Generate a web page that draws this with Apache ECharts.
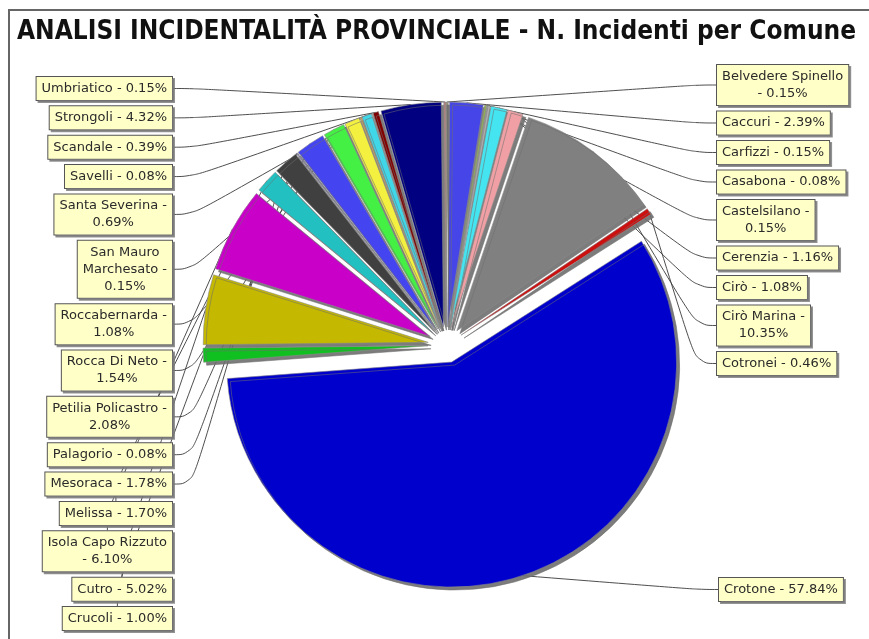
<!DOCTYPE html>
<html>
<head>
<meta charset="utf-8">
<script src="https://cdn.jsdelivr.net/npm/echarts@6/dist/echarts.min.js"></script>
<style>
  html, body { margin: 0; padding: 0; background: #fff; }
  #chart { width: 869px; height: 639px; }
</style>
</head>
<body>
<div id="chart"></div>
<script>
// dati: percentuale incidenti per comune
const comuni = ['Belvedere Spinello', 'Caccuri', 'Carfizzi', 'Casabona', 'Castelsilano', 'Cerenzia', 'Cirò', 'Cirò Marina', 'Cotronei', 'Crotone', 'Crucoli', 'Cutro', 'Isola Capo Rizzuto', 'Melissa', 'Mesoraca', 'Palagorio', 'Petilia Policastro', 'Rocca Di Neto', 'Roccabernarda', 'San Mauro Marchesato', 'Santa Severina', 'Savelli', 'Scandale', 'Strongoli', 'Umbriatico'];
const percentuali = [0.15, 2.39, 0.15, 0.08, 0.15, 1.16, 1.08, 10.35, 0.46, 57.84, 1.00, 5.02, 6.10, 1.70, 1.78, 0.08, 2.08, 1.54, 1.08, 0.15, 0.69, 0.08, 0.39, 4.32, 0.15];
const colori = ['#a09878', '#4545e8', '#90b050', '#9a9a9a', '#b0b0b0', '#44e4f0', '#f0a0a4', '#808080', '#cc1010', '#0000cc', '#10c020', '#c4b800', '#c800c8', '#22c0c0', '#404040', '#8a8ac0', '#4444f0', '#44f044', '#f4f040', '#c0a060', '#40d8e8', '#a0a0a0', '#800000', '#000080', '#b08080'];

// a capo nelle etichette
const dopoNome = ['Belvedere Spinello', 'Isola Capo Rizzuto'];
const dopoTrattino = ['Castelsilano', 'Cirò Marina', 'Santa Severina', 'San Mauro Marchesato', 'Roccabernarda', 'Rocca Di Neto', 'Petilia Policastro'];

function testo(nome, v) {
  const p = v.toFixed(2) + '%';
  let n = nome === 'San Mauro Marchesato' ? 'San Mauro\nMarchesato' : nome;
  if (dopoNome.includes(nome)) return n + '\n- ' + p;
  if (dopoTrattino.includes(nome)) return n + ' -\n' + p;
  return n + ' - ' + p;
}

const LH = 17, PAD = 3;
function altezza(i) {
  return testo(comuni[i], percentuali[i]).split('\n').length * LH + PAD * 2;
}
// colonne etichette
function impila(indici, top, bottom) {
  const pos = {};
  let tot = 0;
  indici.forEach(i => tot += altezza(i));
  const gap = (bottom - top - tot) / (indici.length - 1);
  let y = top;
  indici.forEach(i => { pos[i] = y; y += altezza(i) + gap; });
  return pos;
}
const destra = impila([0, 1, 2, 3, 4, 5, 6, 7, 8], 65, 375);
const sinistra = impila([24, 23, 22, 21, 20, 19, 18, 17, 16, 15, 14, 13, 12, 11, 10], 77, 630);

// torta "esplosa": ogni fetta spostata lungo la sua bisettrice
const CX = 446, CY = 345, R = 225, ESPLOSO = 18;
const totale = percentuali.reduce((a, b) => a + b, 0);
let cum = 0;
const centri = percentuali.map(v => {
  const mid = (cum + v / 2) / totale * Math.PI * 2;
  cum += v;
  return [CX + ESPLOSO * Math.sin(mid), CY - ESPLOSO * Math.cos(mid)];
});

function layoutEtichetta(params) {
  const i = params.dataIndex;
  const w = params.labelRect.width;
  if (i <= 8) return { x: 716 + w / 2, y: destra[i], align: 'center', verticalAlign: 'top' };
  if (i === 9) return { x: 718 + w / 2, y: 578, align: 'center', verticalAlign: 'top' };
  return { x: 173 - w / 2, y: sinistra[i], align: 'center', verticalAlign: 'top' };
}

const serie = comuni.map((c, k) => ({
  type: 'pie',
  name: c,
  center: centri[k],
  radius: R,
  startAngle: 90,
  clockwise: true,
  avoidLabelOverlap: false,
  silent: true,
  emphasis: { disabled: true },
  itemStyle: {
    borderColor: '#8a8a8a',
    borderWidth: 0.6,
    shadowColor: 'rgba(110,110,110,0.9)',
    shadowOffsetX: 3,
    shadowOffsetY: 3,
    shadowBlur: 0
  },
  label: {
    formatter: p => testo(p.name, p.value),
    fontFamily: 'DejaVu Sans',
    fontSize: 13,
    color: '#2a2a2a',
    lineHeight: LH,
    padding: [PAD, 5],
    backgroundColor: '#ffffc8',
    borderColor: '#555',
    borderWidth: 1,
    shadowColor: 'rgba(120,120,120,0.8)',
    shadowOffsetX: 2,
    shadowOffsetY: 2,
    shadowBlur: 0
  },
  labelLine: {
    show: true,
    smooth: 0.5,
    length: 12,
    length2: 20,
    lineStyle: { color: '#3a3a3a', width: 0.9 }
  },
  labelLayout: layoutEtichetta,
  data: comuni.map((n, i) => i === k ? {
    name: n,
    value: percentuali[i],
    itemStyle: { color: colori[i] }
  } : {
    name: n,
    value: percentuali[i],
    itemStyle: { opacity: 0 },
    label: { show: false },
    labelLine: { show: false }
  })
}));

const chart = echarts.init(document.getElementById('chart'));
chart.setOption({
  animation: false,
  title: {
    text: 'ANALISI INCIDENTALITÀ PROVINCIALE - N. Incidenti per Comune',
    left: 12,
    top: 14,
    textStyle: { fontFamily: 'DejaVu Sans Condensed', fontWeight: 'bold', fontSize: 26, color: '#111' }
  },
  graphic: [{
    type: 'polyline',
    shape: { points: [[9, 639], [9, 10], [869, 10]] },
    style: { stroke: '#666', lineWidth: 2, fill: null }
  }],
  series: serie
});
</script>
</body>
</html>
